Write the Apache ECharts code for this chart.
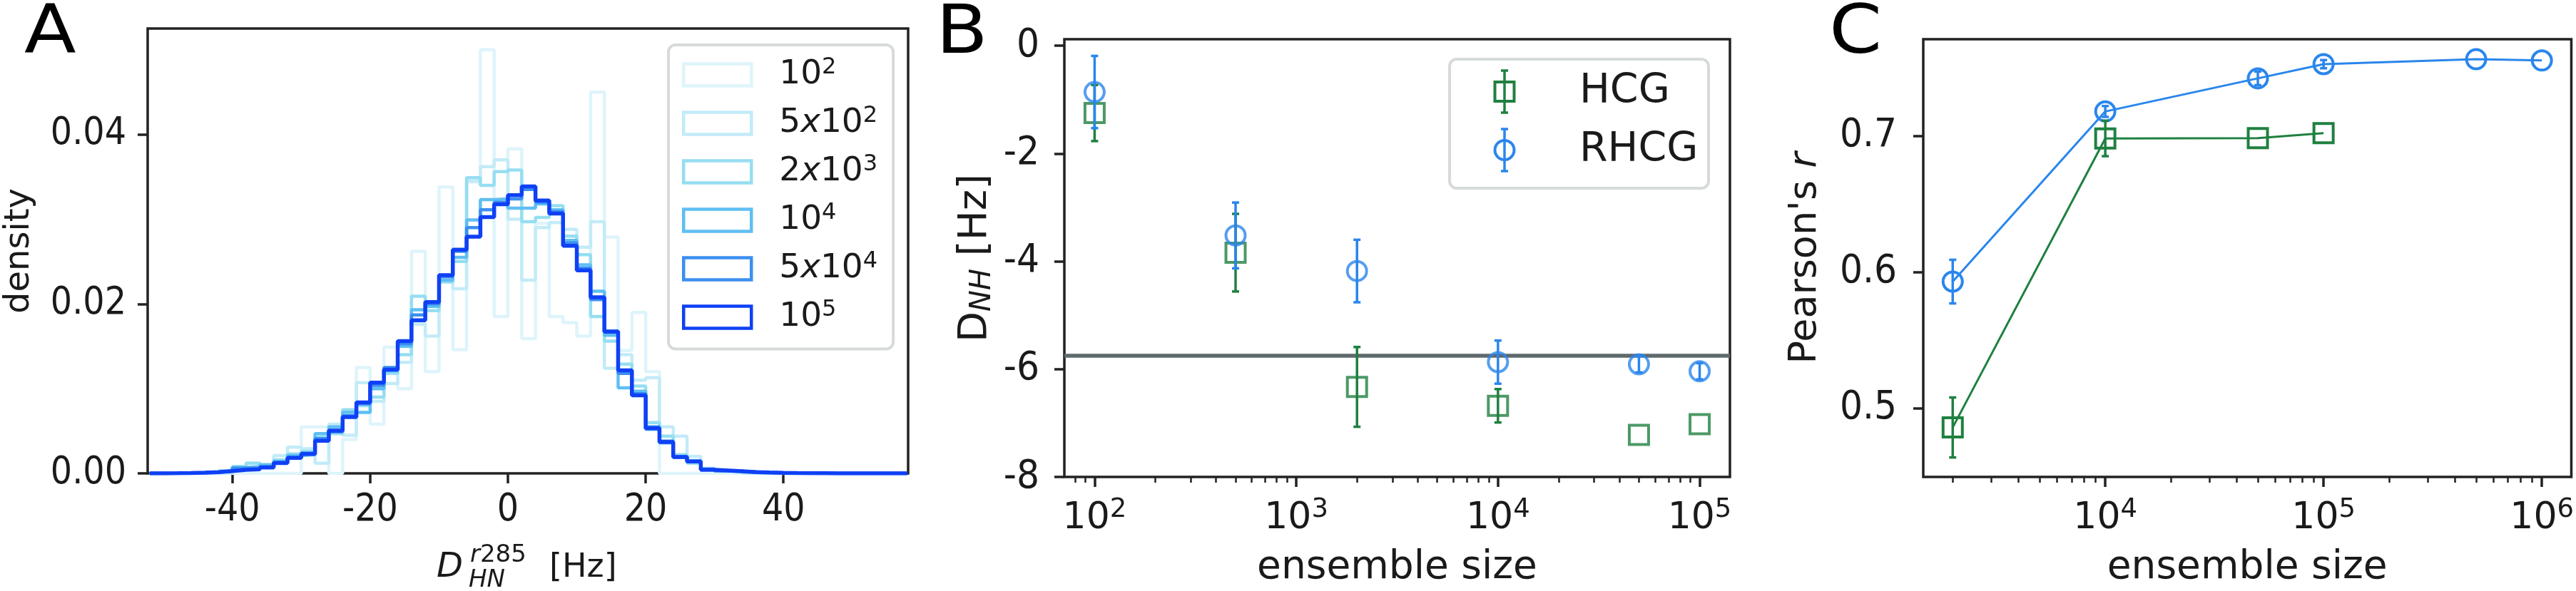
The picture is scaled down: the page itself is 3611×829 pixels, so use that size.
<!DOCTYPE html>
<html>
<head>
<meta charset="utf-8">
<script src="https://cdn.jsdelivr.net/npm/echarts@6/dist/echarts.min.js"></script>
<style>
  html, body { margin: 0; padding: 0; background: #fff; }
  #chart { width: 3611px; height: 829px; }
</style>
</head>
<body>
<div id="chart"></div>
<script>
// A: histogram bin edges [Hz] and densities per ensemble size
const binEdges = [-52, -50, -48, -46, -44, -42, -40, -38, -36, -34, -32, -30, -28, -26, -24, -22, -20, -18, -16, -14,
  -12, -10, -8, -6, -4, -2, 0, 2, 4, 6, 8, 10, 12, 14, 16, 18, 20, 22, 24, 26, 28, 30, 32, 34, 36, 38, 40, 42, 44, 46,
  48, 50, 52, 54, 56, 58];
const hist1e2 = [0, 0, 0, 0, 0, 0, 0, 0, 0, 0, 0, 0.0055, 0.0055, 0, 0.004, 0.0125, 0.0058, 0.0149, 0.01, 0.0262,
  0.012, 0.0338, 0.0146, 0.0344, 0.05, 0.0185, 0.0383, 0.0159, 0.0295, 0.0185, 0.0178, 0.0162, 0.045, 0.0279, 0.0145,
  0.019, 0.012, 0, 0, 0, 0, 0, 0, 0, 0, 0, 0, 0, 0, 0, 0, 0, 0, 0, 0];
const hist5e2 = [0, 0, 0, 0, 0, 0, 0.0008, 0.0012, 0.001, 0.0021, 0.0031, 0.0029, 0.0012, 0.0058, 0.0045, 0.0107,
  0.0085, 0.0106, 0.0131, 0.0176, 0.0162, 0.0226, 0.0218, 0.0345, 0.0362, 0.037, 0.03, 0.0228, 0.029, 0.0296, 0.0288,
  0.0267, 0.0297, 0.0124, 0.014, 0.011, 0.0113, 0.0055, 0.0044, 0.002, 0.0006, 0.0004, 0.0002, 0, 0, 0, 0, 0, 0, 0,
  0, 0, 0, 0, 0];
const hist2e3 = [0, 0, 0, 0, 0.0001, 0.0003, 0.0008, 0.0012, 0.001, 0.0016, 0.0023, 0.0026, 0.0043, 0.0047, 0.0075,
  0.008, 0.009, 0.0118, 0.014, 0.0209, 0.0192, 0.0226, 0.025, 0.0349, 0.034, 0.0356, 0.0358, 0.0297, 0.0302, 0.0316,
  0.028, 0.0258, 0.0185, 0.0156, 0.0129, 0.0103, 0.006, 0.0044, 0.0022, 0.0012, 0.0005, 0.0003, 0.0003, 0.0001, 0, 0,
  0, 0, 0, 0, 0, 0, 0, 0, 0];
const hist1e4 = [0.00001, 0.00002, 0.00004, 0.00008, 0.00015, 0.0003, 0.0007, 0.0008, 0.001, 0.0014, 0.0021, 0.0022,
  0.0047, 0.0055, 0.0072, 0.0072, 0.01, 0.0121, 0.015, 0.0193, 0.0197, 0.0228, 0.0255, 0.0299, 0.0323, 0.0324, 0.0313,
  0.0313, 0.0318, 0.0311, 0.0275, 0.0246, 0.0215, 0.0163, 0.0101, 0.0097, 0.0052, 0.0036, 0.002, 0.0015, 0.0005,
  0.0003, 0.0002, 0.0002, 0.0001, 0.00005, 0.00003, 0.00002, 0.00001, 0, 0, 0, 0, 0, 0];
const hist5e4 = [0.00001, 0.00002, 0.00004, 0.00008, 0.00014, 0.00026, 0.0006, 0.0006, 0.0008, 0.0013, 0.0019, 0.0024,
  0.0041, 0.0049, 0.0068, 0.0082, 0.0104, 0.0125, 0.0153, 0.0187, 0.02, 0.0232, 0.0262, 0.029, 0.0311, 0.032, 0.0324,
  0.0335, 0.032, 0.0309, 0.0272, 0.0242, 0.0205, 0.0168, 0.0118, 0.0094, 0.0055, 0.0038, 0.0019, 0.0014, 0.0005,
  0.0003, 0.00025, 0.00015, 0.0001, 0.00006, 0.00004, 0.00003, 0.00002, 0.00001, 0.00001, 0, 0, 0, 0];
const hist1e5 = [0.00001, 0.00002, 0.00004, 0.00008, 0.00014, 0.00028, 0.00042, 0.00048, 0.0007, 0.00123, 0.00182,
  0.0023, 0.00384, 0.00504, 0.00664, 0.00838, 0.0107, 0.01224, 0.0156, 0.01807, 0.02022, 0.02339, 0.02639, 0.02793,
  0.03025, 0.03176, 0.03283, 0.03387, 0.03221, 0.03067, 0.02686, 0.02395, 0.02078, 0.01672, 0.01216, 0.00922, 0.00532,
  0.0037, 0.00193, 0.0014, 0.00042, 0.00034, 0.00025, 0.00015, 0.0001, 0.00006, 0.00004, 0.00003, 0.00002, 0.00001,
  0.00001, 0, 0, 0, 0];
const histNames = ['10^2', '5x10^2', '2x10^3', '10^4', '5x10^4', '10^5'];
const histLabels = ['{b|10}{s|2}', '{b|5}{i|x}{b|10}{s|2}', '{b|2}{i|x}{b|10}{s|3}', '{b|10}{s|4}',
  '{b|5}{i|x}{b|10}{s|4}', '{b|10}{s|5}'];
const xTicksA = [-40, -20, 0, 20, 40];
const yTicksA = [0, 0.02, 0.04];

// B: mean D_NH per ensemble size with error
const sizesB = [100, 500, 2000, 10000, 50000, 100000];
const hcgB = [-1.25, -3.84, -6.33, -6.68, -7.22, -7.02];
const hcgBErr = [0.52, 0.72, 0.74, 0.31, 0, 0];
const rhcgB = [-0.86, -3.52, -4.18, -5.87, -5.91, -6.04];
const rhcgBErr = [0.67, 0.61, 0.58, 0.4, 0.15, 0.15];
const refB = -5.75;
const yTicksB = [-8, -6, -4, -2, 0];

// C: Pearson's r per ensemble size
const sizesCHcg = [2000, 10000, 50000, 100000];
const hcgC = [0.486, 0.698, 0.6983, 0.7019];
const hcgCErr = [0.022, 0.013, 0, 0];
const sizesCRhcg = [2000, 10000, 50000, 100000, 500000, 1000000];
const rhcgC = [0.593, 0.7178, 0.7421, 0.7525, 0.7561, 0.7552];
const rhcgCErr = [0.016, 0.004, 0.005, 0.003, 0, 0];
const yTicksC = [0.5, 0.6, 0.7];

const histColors = ['#def4fb', '#c3ebf8', '#96def1', '#5fbef2', '#3c8ff0', '#0f40f5'];
const GREEN = '#1f8040';
const BLUE = '#2a86ec';
const INK = '#1a1a1a';
const SPINE = '#222222';
const FONT = '"DejaVu Sans", sans-serif';
const TICK_FONT = '"DejaVu Sans Condensed", "DejaVu Sans", sans-serif';

const chart = echarts.init(document.getElementById('chart'), null, { renderer: 'canvas' });

// step outline of a histogram, like matplotlib histtype='step'
function stepPoints(vals) {
  const pts = [[binEdges[0], 0]];
  vals.forEach((v, i) => pts.push([binEdges[i], v]));
  const n = vals.length;
  pts.push([binEdges[n], vals[n - 1]]);
  pts.push([binEdges[n], 0]);
  return pts;
}

function minorLogTicks(lo, hi) {
  const out = [];
  for (let d = Math.floor(Math.log10(lo)); d <= Math.ceil(Math.log10(hi)); d++) {
    for (let k = 2; k <= 9; k++) {
      const v = k * Math.pow(10, d);
      if (v >= lo && v <= hi) out.push(v);
    }
  }
  return out;
}

function errorBars(xs, ys, errs, color, xi, yi) {
  return {
    type: 'custom', xAxisIndex: xi, yAxisIndex: yi, z: 4, silent: true,
    data: xs.map((x, i) => [x, ys[i] - errs[i], ys[i] + errs[i]]),
    encode: { x: 0, y: [1, 2] },
    renderItem(params, api) {
      if (api.value(2) - api.value(1) <= 0) return null;
      const lo = api.coord([api.value(0), api.value(1)]);
      const hi = api.coord([api.value(0), api.value(2)]);
      const cap = 5;
      const style = { stroke: color, lineWidth: 3.5 };
      return {
        type: 'group', children: [
          { type: 'line', shape: { x1: lo[0], y1: lo[1], x2: hi[0], y2: hi[1] }, style },
          { type: 'line', shape: { x1: lo[0] - cap, y1: lo[1], x2: lo[0] + cap, y2: lo[1] }, style },
          { type: 'line', shape: { x1: hi[0] - cap, y1: hi[1], x2: hi[0] + cap, y2: hi[1] }, style }
        ]
      };
    }
  };
}

const noLine = { show: false, onZero: false };
const tickStyle = { show: true, length: 14, lineStyle: { color: SPINE, width: 3.5 } };
const logRich = {
  b: { fontFamily: FONT, fontSize: 52, color: INK, lineHeight: 60 },
  s: { fontFamily: FONT, fontSize: 37, color: INK, verticalAlign: 'top', lineHeight: 40 }
};
const logLabel = v => '{b|10}{s|' + Math.round(Math.log10(v)) + '}';

const xMinB = 70.8, xMaxB = 141300;
const xMinC = 1466, xMaxC = 1364600;

function logAxes(grid, min, max, majors) {
  return [
    {
      gridIndex: grid, type: 'log', min, max, position: 'bottom',
      axisLine: noLine, splitLine: { show: false },
      axisTick: Object.assign({ customValues: majors }, tickStyle),
      axisLabel: { customValues: majors, margin: 28, formatter: logLabel, rich: logRich },
      name: 'ensemble size', nameLocation: 'middle', nameGap: 100,
      nameTextStyle: { fontFamily: FONT, fontSize: 55, color: INK }
    },
    {
      gridIndex: grid, type: 'log', min, max, position: 'bottom',
      axisLine: noLine, splitLine: { show: false }, axisLabel: { show: false },
      axisTick: { show: true, length: 8, customValues: minorLogTicks(min, max), lineStyle: { color: SPINE, width: 2.5 } }
    }
  ];
}

// free text placed by the left edge and the vertical centre of its box
function txt(left, cy, text, size, extra) {
  return {
    type: 'text', left, top: cy - size / 2,
    style: Object.assign({ text, fontFamily: FONT, fontSize: size, fill: INK }, extra || {})
  };
}

const histSeries = [hist1e2, hist5e2, hist2e3, hist1e4, hist5e4, hist1e5].map((vals, i) => ({
  name: histNames[i], type: 'line', xAxisIndex: 0, yAxisIndex: 0,
  step: 'end', showSymbol: false, symbol: 'none',
  data: stepPoints(vals),
  lineStyle: { color: histColors[i], width: i === 5 ? 5.5 : 4.5 },
  itemStyle: { color: histColors[i] },
  z: 2 + i * 0.01
}));

const letter = (left, t) => Object.assign(txt(left, 50, t, 94, { fill: '#000' }), { scaleX: 1.13 });

const option = {
  animation: false,
  backgroundColor: '#ffffff',
  grid: [
    { left: 207, top: 40, width: 1066, height: 624, show: true, borderColor: SPINE, borderWidth: 3.5 },
    { left: 1492, top: 55, width: 933, height: 621, show: true, borderColor: SPINE, borderWidth: 3.5 },
    { left: 2696, top: 55, width: 910, height: 621, show: true, borderColor: SPINE, borderWidth: 3.5 }
  ],
  xAxis: [
    {
      gridIndex: 0, type: 'value', min: -52.3, max: 58.1,
      axisLine: noLine, splitLine: { show: false },
      axisTick: Object.assign({ customValues: xTicksA }, tickStyle),
      axisLabel: { customValues: xTicksA, margin: 26, fontFamily: TICK_FONT, fontSize: 53, color: INK }
    },
    ...logAxes(1, xMinB, xMaxB, [100, 1000, 10000, 100000]),
    ...logAxes(2, xMinC, xMaxC, [10000, 100000, 1000000])
  ],
  yAxis: [
    {
      gridIndex: 0, type: 'value', min: 0, max: 0.0525,
      axisLine: noLine, splitLine: { show: false },
      axisTick: Object.assign({ customValues: yTicksA }, tickStyle),
      axisLabel: { customValues: yTicksA, margin: 30, fontFamily: TICK_FONT, fontSize: 53, color: INK,
        formatter: v => v.toFixed(2) },
      name: 'density', nameLocation: 'middle', nameGap: 155, nameRotate: 90,
      nameTextStyle: { fontFamily: FONT, fontSize: 48, color: INK }
    },
    {
      gridIndex: 1, type: 'value', min: -8, max: 0.12,
      axisLine: noLine, splitLine: { show: false },
      axisTick: Object.assign({ customValues: yTicksB }, tickStyle),
      axisLabel: { customValues: yTicksB, margin: 35, fontFamily: TICK_FONT, fontSize: 56, color: INK,
        formatter: v => String(v) },
      name: 'D{s|NH} [Hz]', nameLocation: 'middle', nameGap: 94, nameRotate: 90,
      nameTextStyle: {
        fontFamily: FONT, fontSize: 56, color: INK, lineHeight: 62,
        rich: { s: { fontFamily: FONT, fontSize: 40, fontStyle: 'italic', color: INK, verticalAlign: 'bottom', lineHeight: 40 } }
      }
    },
    {
      gridIndex: 2, type: 'value', min: 0.4497, max: 0.7708,
      axisLine: noLine, splitLine: { show: false },
      axisTick: Object.assign({ customValues: yTicksC }, tickStyle),
      axisLabel: { customValues: yTicksC, margin: 37, fontFamily: TICK_FONT, fontSize: 56, color: INK,
        formatter: v => v.toFixed(1) },
      name: "Pearson's {i|r}", nameLocation: 'middle', nameGap: 138, nameRotate: 90,
      nameTextStyle: {
        fontFamily: FONT, fontSize: 54, color: INK,
        rich: { i: { fontFamily: FONT, fontSize: 54, fontStyle: 'italic', color: INK } }
      }
    }
  ],
  legend: {
    orient: 'vertical', left: 937, top: 63,
    selectedMode: false,
    data: histNames.map((n, i) => ({
      name: n, icon: 'rect',
      itemStyle: { color: 'rgba(0,0,0,0)', borderColor: histColors[i], borderWidth: 4.5 }
    })),
    itemWidth: 95, itemHeight: 31, itemGap: 18.5,
    padding: [16, 22, 21, 19],
    backgroundColor: 'rgba(255,255,255,0.8)', borderColor: '#d6dada', borderWidth: 4, borderRadius: 10,
    formatter: n => histLabels[histNames.indexOf(n)],
    textStyle: {
      fontFamily: FONT, fontSize: 47, color: INK, padding: [0, 0, 0, 34],
      rich: {
        b: { fontFamily: FONT, fontSize: 47, lineHeight: 52, color: INK },
        i: { fontFamily: FONT, fontSize: 47, fontStyle: 'italic', lineHeight: 52, color: INK },
        s: { fontFamily: FONT, fontSize: 32, verticalAlign: 'top', lineHeight: 32, color: INK }
      }
    }
  },
  graphic: [
    letter(34, 'A'),
    letter(1312, 'B'),
    letter(2564, 'C'),
    // x label of panel A: D_HN^r285 [Hz]
    txt(612, 797, 'D', 48, { fontStyle: 'italic' }),
    txt(659, 779, '{i|r}285', 34, { rich: { i: { fontStyle: 'italic', fontFamily: FONT, fontSize: 34, fill: INK } } }),
    txt(657, 814, 'HN', 34, { fontStyle: 'italic' }),
    txt(770, 797, '[Hz]', 46),
    // legend of panel B
    { type: 'rect', shape: { x: 2032, y: 83, width: 363, height: 181, r: 10 },
      style: { fill: 'rgba(255,255,255,0.8)', stroke: '#d6dada', lineWidth: 4 }, z: 10 },
    { type: 'line', shape: { x1: 2109, y1: 99, x2: 2109, y2: 158 }, style: { stroke: GREEN, lineWidth: 3.5 }, z: 11 },
    { type: 'line', shape: { x1: 2104, y1: 99, x2: 2114, y2: 99 }, style: { stroke: GREEN, lineWidth: 3.5 }, z: 11 },
    { type: 'line', shape: { x1: 2104, y1: 158, x2: 2114, y2: 158 }, style: { stroke: GREEN, lineWidth: 3.5 }, z: 11 },
    { type: 'rect', shape: { x: 2095.5, y: 115, width: 27, height: 27 }, style: { fill: 'none', stroke: GREEN, lineWidth: 4 }, z: 11 },
    { type: 'line', shape: { x1: 2109, y1: 181, x2: 2109, y2: 240 }, style: { stroke: BLUE, lineWidth: 3.5 }, z: 11 },
    { type: 'line', shape: { x1: 2104, y1: 181, x2: 2114, y2: 181 }, style: { stroke: BLUE, lineWidth: 3.5 }, z: 11 },
    { type: 'line', shape: { x1: 2104, y1: 240, x2: 2114, y2: 240 }, style: { stroke: BLUE, lineWidth: 3.5 }, z: 11 },
    { type: 'circle', shape: { cx: 2109, cy: 210.5, r: 13.5 }, style: { fill: 'none', stroke: BLUE, lineWidth: 4 }, z: 11 },
    Object.assign(txt(2214, 129, 'HCG', 57), { z: 11 }),
    Object.assign(txt(2214, 211, 'RHCG', 57), { z: 11 })
  ],
  series: [
    ...histSeries,
    {
      name: 'HCG', type: 'scatter', xAxisIndex: 1, yAxisIndex: 1, z: 3,
      data: sizesB.map((x, i) => [x, hcgB[i]]),
      symbol: 'rect', symbolSize: 27,
      itemStyle: { color: 'rgba(0,0,0,0)', borderColor: GREEN, borderWidth: 4 },
      markLine: {
        silent: true, symbol: ['none', 'none'], z: 1, label: { show: false },
        lineStyle: { color: '#5e6a6b', width: 5.5, type: 'solid' },
        data: [{ yAxis: refB }]
      }
    },
    errorBars(sizesB, hcgB, hcgBErr, GREEN, 1, 1),
    {
      name: 'RHCG', type: 'scatter', xAxisIndex: 1, yAxisIndex: 1, z: 3,
      data: sizesB.map((x, i) => [x, rhcgB[i]]),
      symbol: 'circle', symbolSize: 27,
      itemStyle: { color: 'rgba(0,0,0,0)', borderColor: BLUE, borderWidth: 4 }
    },
    errorBars(sizesB, rhcgB, rhcgBErr, BLUE, 1, 1),
    {
      name: 'HCG r', type: 'line', xAxisIndex: 3, yAxisIndex: 2, z: 3,
      data: sizesCHcg.map((x, i) => [x, hcgC[i]]),
      symbol: 'rect', symbolSize: 27, showSymbol: true,
      lineStyle: { color: GREEN, width: 3 },
      itemStyle: { color: 'rgba(0,0,0,0)', borderColor: GREEN, borderWidth: 4 }
    },
    errorBars(sizesCHcg, hcgC, hcgCErr, GREEN, 3, 2),
    {
      name: 'RHCG r', type: 'line', xAxisIndex: 3, yAxisIndex: 2, z: 3,
      data: sizesCRhcg.map((x, i) => [x, rhcgC[i]]),
      symbol: 'circle', symbolSize: 27, showSymbol: true,
      lineStyle: { color: BLUE, width: 3 },
      itemStyle: { color: 'rgba(0,0,0,0)', borderColor: BLUE, borderWidth: 4 }
    },
    errorBars(sizesCRhcg, rhcgC, rhcgCErr, BLUE, 3, 2)
  ]
};

chart.setOption(option);
</script>
</body>
</html>
